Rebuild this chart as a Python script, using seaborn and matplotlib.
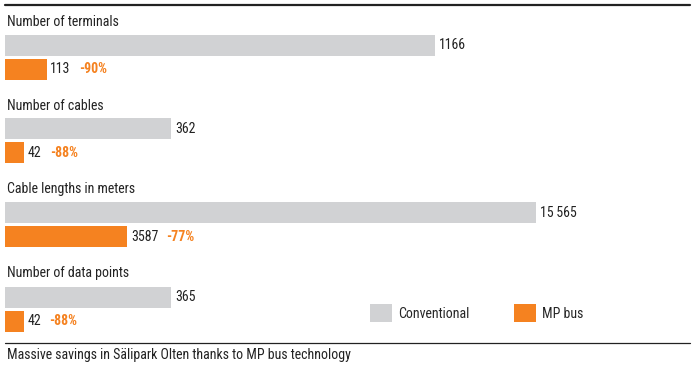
import matplotlib
matplotlib.use("Agg")
import matplotlib.pyplot as plt
from matplotlib.patches import Patch
from matplotlib.lines import Line2D
import seaborn as sns
import pandas as pd

# data
groups = ["Number of terminals", "Number of cables", "Cable lengths in meters", "Number of data points"]
conventional = [1166, 362, 15565, 365]
mp_bus = [113, 42, 3587, 42]
series = ["Conventional", "MP bus"]
caption = "Massive savings in Sälipark Olten thanks to MP bus technology"

GRAY = "#d1d2d4"
ORANGE = "#f58220"
FS = 10

sns.set_theme(style="white")
plt.rcParams["font.family"] = ["Roboto Condensed", "DejaVu Sans"]
plt.rcParams["font.size"] = FS

W, H = 699, 366
fig = plt.figure(figsize=(W / 100, H / 100), dpi=100)
fig.patch.set_facecolor("white")

# layout in pixels
left_px, ax_w_px = 5, 685
bar_tops = [34, 118, 202, 286]
conv_end = [435, 171, 536, 171]   # where the conventional bar ends (per-group scale)


def fmt(v):
    # thin-space thousands separator only for 5-digit numbers, as in the original
    return f"{v:,}".replace(",", "\u2009") if v >= 10000 else str(v)


renderer = fig.canvas.get_renderer()
for i, name in enumerate(groups):
    top = bar_tops[i] - 1
    ax = fig.add_axes([left_px / W, 1 - (top + 48) / H, ax_w_px / W, 48 / H])
    df = pd.DataFrame({"series": series, "value": [conventional[i], mp_bus[i]]})
    sns.barplot(data=df, x="value", y="series", hue="series", palette=[GRAY, ORANGE],
                orient="h", width=0.875, legend=False, ax=ax, saturation=1, linewidth=0)
    ax.set_xlim(0, conventional[i] * ax_w_px / (conv_end[i] - left_px))
    ax.set_ylim(1.5, -0.5)
    ax.axis("off")

    ax.annotate(fmt(conventional[i]), (conventional[i], 0), xytext=(3, 0),
                textcoords="offset points", va="center", ha="left", color="#222222")
    t = ax.annotate(fmt(mp_bus[i]), (mp_bus[i], 1), xytext=(2.5, 0),
                    textcoords="offset points", va="center", ha="left", color="#222222")
    bb = t.get_window_extent(renderer)
    pct = round((mp_bus[i] - conventional[i]) / conventional[i] * 100)
    ax.annotate(f"{pct}%", (mp_bus[i], 1), xytext=(2.5 + bb.width * 72 / 100 + 6, 0),
                textcoords="offset points", va="center", ha="left",
                color=ORANGE, fontweight="bold")

    fig.text(7 / W, 1 - (bar_tops[i] - 12.5) / H, name, va="center", ha="left", color="#222222")

# legend
handles = [Patch(facecolor=GRAY, edgecolor="none"), Patch(facecolor=ORANGE, edgecolor="none")]
fig.legend(handles, series, loc="center left", bbox_to_anchor=(370 / W, 1 - 313 / H),
           ncol=2, frameon=False, fontsize=FS, handlelength=1.58, handleheight=1.58,
           handletextpad=0.43, columnspacing=3.2, borderaxespad=0, borderpad=0)

# rules and caption
fig.add_artist(Line2D([5 / W, 690 / W], [1 - 5 / H, 1 - 5 / H], color="#222222", lw=1.6))
fig.add_artist(Line2D([5 / W, 690 / W], [1 - 343 / H, 1 - 343 / H], color="#222222", lw=0.9))
fig.text(7 / W, 1 - 355 / H, caption, va="center", ha="left", color="#222222")

fig.savefig("out.png", dpi=100, facecolor="white")
